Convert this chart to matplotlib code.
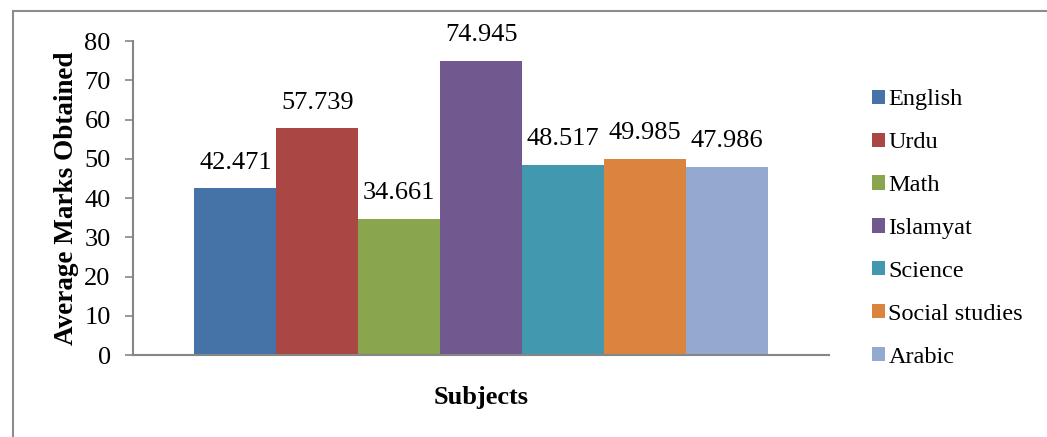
import matplotlib.pyplot as plt
from matplotlib.patches import Rectangle

subjects = ['English', 'Urdu', 'Math', 'Islamyat', 'Science', 'Social studies', 'Arabic']
marks = [42.471, 57.739, 34.661, 74.945, 48.517, 49.985, 47.986]
colors = ['#4572A7', '#AA4643', '#89A54E', '#71588F', '#4198AF', '#DB843D', '#93A9CF']
yticks = [0, 10, 20, 30, 40, 50, 60, 70, 80]

plt.rcParams['font.family'] = ['Liberation Serif', 'DejaVu Serif']

fig = plt.figure(figsize=(10.47, 4.37), dpi=100)
ax = fig.add_axes([0.127, 0.1876, 0.665, 0.7185])

# рамка вокруг диаграммы
fig.patches.append(Rectangle((13 / 1047, -0.1), 1.1, 1.1 - 11 / 437,
                             transform=fig.transFigure, fill=False,
                             edgecolor='#8c8c8c', linewidth=1.5))

for i, (s, m, c) in enumerate(zip(subjects, marks, colors)):
    ax.bar(i, m, width=1.0, color=c, label=s)
    ax.annotate(f'{m:.3f}', (i, m), xytext=(0, 10.5), textcoords='offset points',
                ha='center', va='bottom', fontsize=19)

ax.set_xlim(-1.25, 7.25)
ax.set_ylim(0, 80)
ax.set_yticks(yticks)
ax.set_xticks([])
ax.tick_params(axis='y', labelsize=19, length=6, color='#868686', width=1.2, pad=10)
for side in ['top', 'right']:
    ax.spines[side].set_visible(False)
for side in ['left', 'bottom']:
    ax.spines[side].set_color('#868686')
    ax.spines[side].set_linewidth(1.5)

ax.set_ylabel('Average Marks Obtained', fontsize=19.5, fontweight='bold', labelpad=4)
ax.set_xlabel('Subjects', fontsize=19, fontweight='bold', labelpad=22)

fig.legend(loc='center left', bbox_to_anchor=(0.833, 0.477), frameon=False,
           fontsize=17.5, handlelength=0.52, handleheight=0.52, handletextpad=0.15,
           labelspacing=0.9, borderaxespad=0, borderpad=0)

fig.savefig('out.png', dpi=100)
